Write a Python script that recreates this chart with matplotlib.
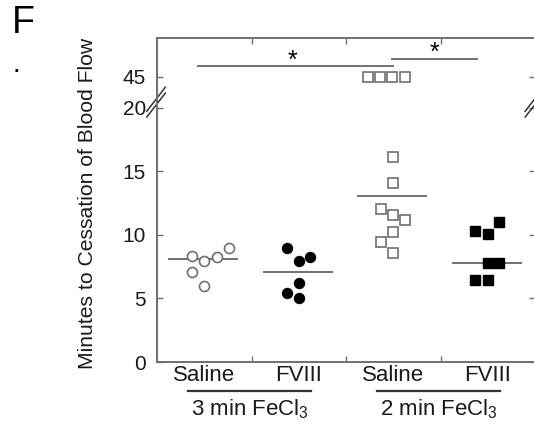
import matplotlib.pyplot as plt
import numpy as np

plt.rcParams['font.family'] = ['Liberation Sans', 'DejaVu Sans']
plt.rcParams['mathtext.fontset'] = 'custom'
plt.rcParams['mathtext.rm'] = 'Liberation Sans'

# Data (minutes to cessation of blood flow)
categories = ['Saline', 'FVIII', 'Saline', 'FVIII']
groups = ['3 min FeCl', '2 min FeCl']

sal3 = [8.3, 7.95, 8.25, 9.0, 7.05, 6.0]
sal3_dx = [-0.13, 0.0, 0.13, 0.26, -0.13, 0.0]
fviii3 = [9.0, 7.95, 8.25, 6.25, 5.4, 5.0]
fviii3_dx = [-0.12, 0.0, 0.12, 0.0, -0.12, 0.0]
sal2 = [45, 45, 45, 45, 16.1, 14.1, 12.0, 11.55, 11.2, 10.2, 9.4, 8.55]
sal2_dx = [-0.27, -0.14, -0.01, 0.12, 0.0, 0.0, -0.13, 0.0, 0.12, 0.0, -0.13, 0.0]
fviii2 = [10.3, 10.05, 11.0, 7.8, 7.8, 6.45, 6.45]
fviii2_dx = [-0.13, 0.0, 0.12, 0.0, 0.12, -0.13, 0.0]

gray = '#707070'
c = 0.0964  # compression above the break


def fwd(y):
    y = np.asarray(y, dtype=float)
    return np.where(y <= 20, y, 20 + (y - 20) * c)


def inv(t):
    t = np.asarray(t, dtype=float)
    return np.where(t <= 20, t, 20 + (t - 20) / c)


fig = plt.figure(figsize=(5.34, 4.28), dpi=100)
ax = fig.add_axes([157 / 534, 1 - 362 / 428, 378 / 534, 324 / 428])
ax.set_yscale('function', functions=(fwd, inv))

ms = 7.2
series = [
    (sal3, sal3_dx, dict(marker='o', mfc='white', mec=gray, mew=1.2)),
    (fviii3, fviii3_dx, dict(marker='o', mfc='black', mec='black', mew=1)),
    (sal2, sal2_dx, dict(marker='s', mfc='white', mec=gray, mew=1.2)),
    (fviii2, fviii2_dx, dict(marker='s', mfc='black', mec='black', mew=1)),
]
for i, (vals, dx, style) in enumerate(series):
    ax.plot(np.array(dx) + i, vals, linestyle='none', ms=ms, **style)
    med = np.median(vals)
    ax.plot([i - 0.37, i + 0.35], [med, med], color=gray, lw=1.4, zorder=1)

ax.set_xlim(-0.5, 3.5)
ax.set_ylim(0, 76.8)
ax.set_yticks([0, 5, 10, 15, 20, 45])
ax.set_yticklabels(['0', '5', '10', '15', '20', '45'])
ax.yaxis.set_minor_locator(plt.NullLocator())
ax.set_xticks([0.5, 1.5, 2.5])
ax.set_xticklabels([])
ax.set_xticks([0, 1, 2, 3], categories, minor=True)

for s in ax.spines.values():
    s.set_color(gray)
    s.set_linewidth(1.4)
ax.tick_params(axis='both', which='major', direction='in', color=gray,
               length=4, width=1, labelsize=15, top=True, right=True,
               labelcolor='#1a1a1a')
ax.tick_params(axis='y', pad=8)
ax.tick_params(axis='x', which='minor', length=0, labelsize=16, pad=2,
               labelcolor='#1a1a1a')

# axis break marks
for xa, sc in ((0.0, 1.0), (0.993, 0.7)):
    for dy in (0.0, 0.018):
        ax.plot([xa - 0.027 * sc, xa + 0.022 * sc],
                [0.756 + dy, 0.756 + 0.074 * sc + dy], color='#333333',
                lw=1.1, transform=ax.transAxes, clip_on=False)

# significance bars
ax.plot([-0.07, 2.0], [53.9, 53.9], color=gray, lw=1.4)
ax.text(0.93, 58.5, '*', ha='center', va='center', fontsize=18)
ax.plot([1.99, 2.89], [59.6, 59.6], color=gray, lw=1.4)
ax.text(2.44, 64.5, '*', ha='center', va='center', fontsize=18)

# group labels under the categories
trans = ax.get_xaxis_transform()
for gc, g in zip([0.48, 2.48], groups):
    ax.plot([gc - 0.65, gc + 0.65], [-0.09, -0.09], color='#333333', lw=1.6,
            transform=trans, clip_on=False)
    ax.text(gc, -0.145, g + r'$_{\mathregular{3}}$', transform=trans,
            ha='center', va='center', fontsize=16, color='#1a1a1a')

fig.text(88 / 534, 1 - 203 / 428, 'Minutes to Cessation of Blood Flow',
         rotation=90, ha='center', va='center', fontsize=15.2, color='#1a1a1a')
fig.text(12 / 534, 1 - 33 / 428, 'F', fontsize=27, va='baseline')
fig.text(16 / 534, 1 - 72 / 428, '.', fontsize=20, ha='center', va='baseline')

fig.savefig('out.png', dpi=100)
